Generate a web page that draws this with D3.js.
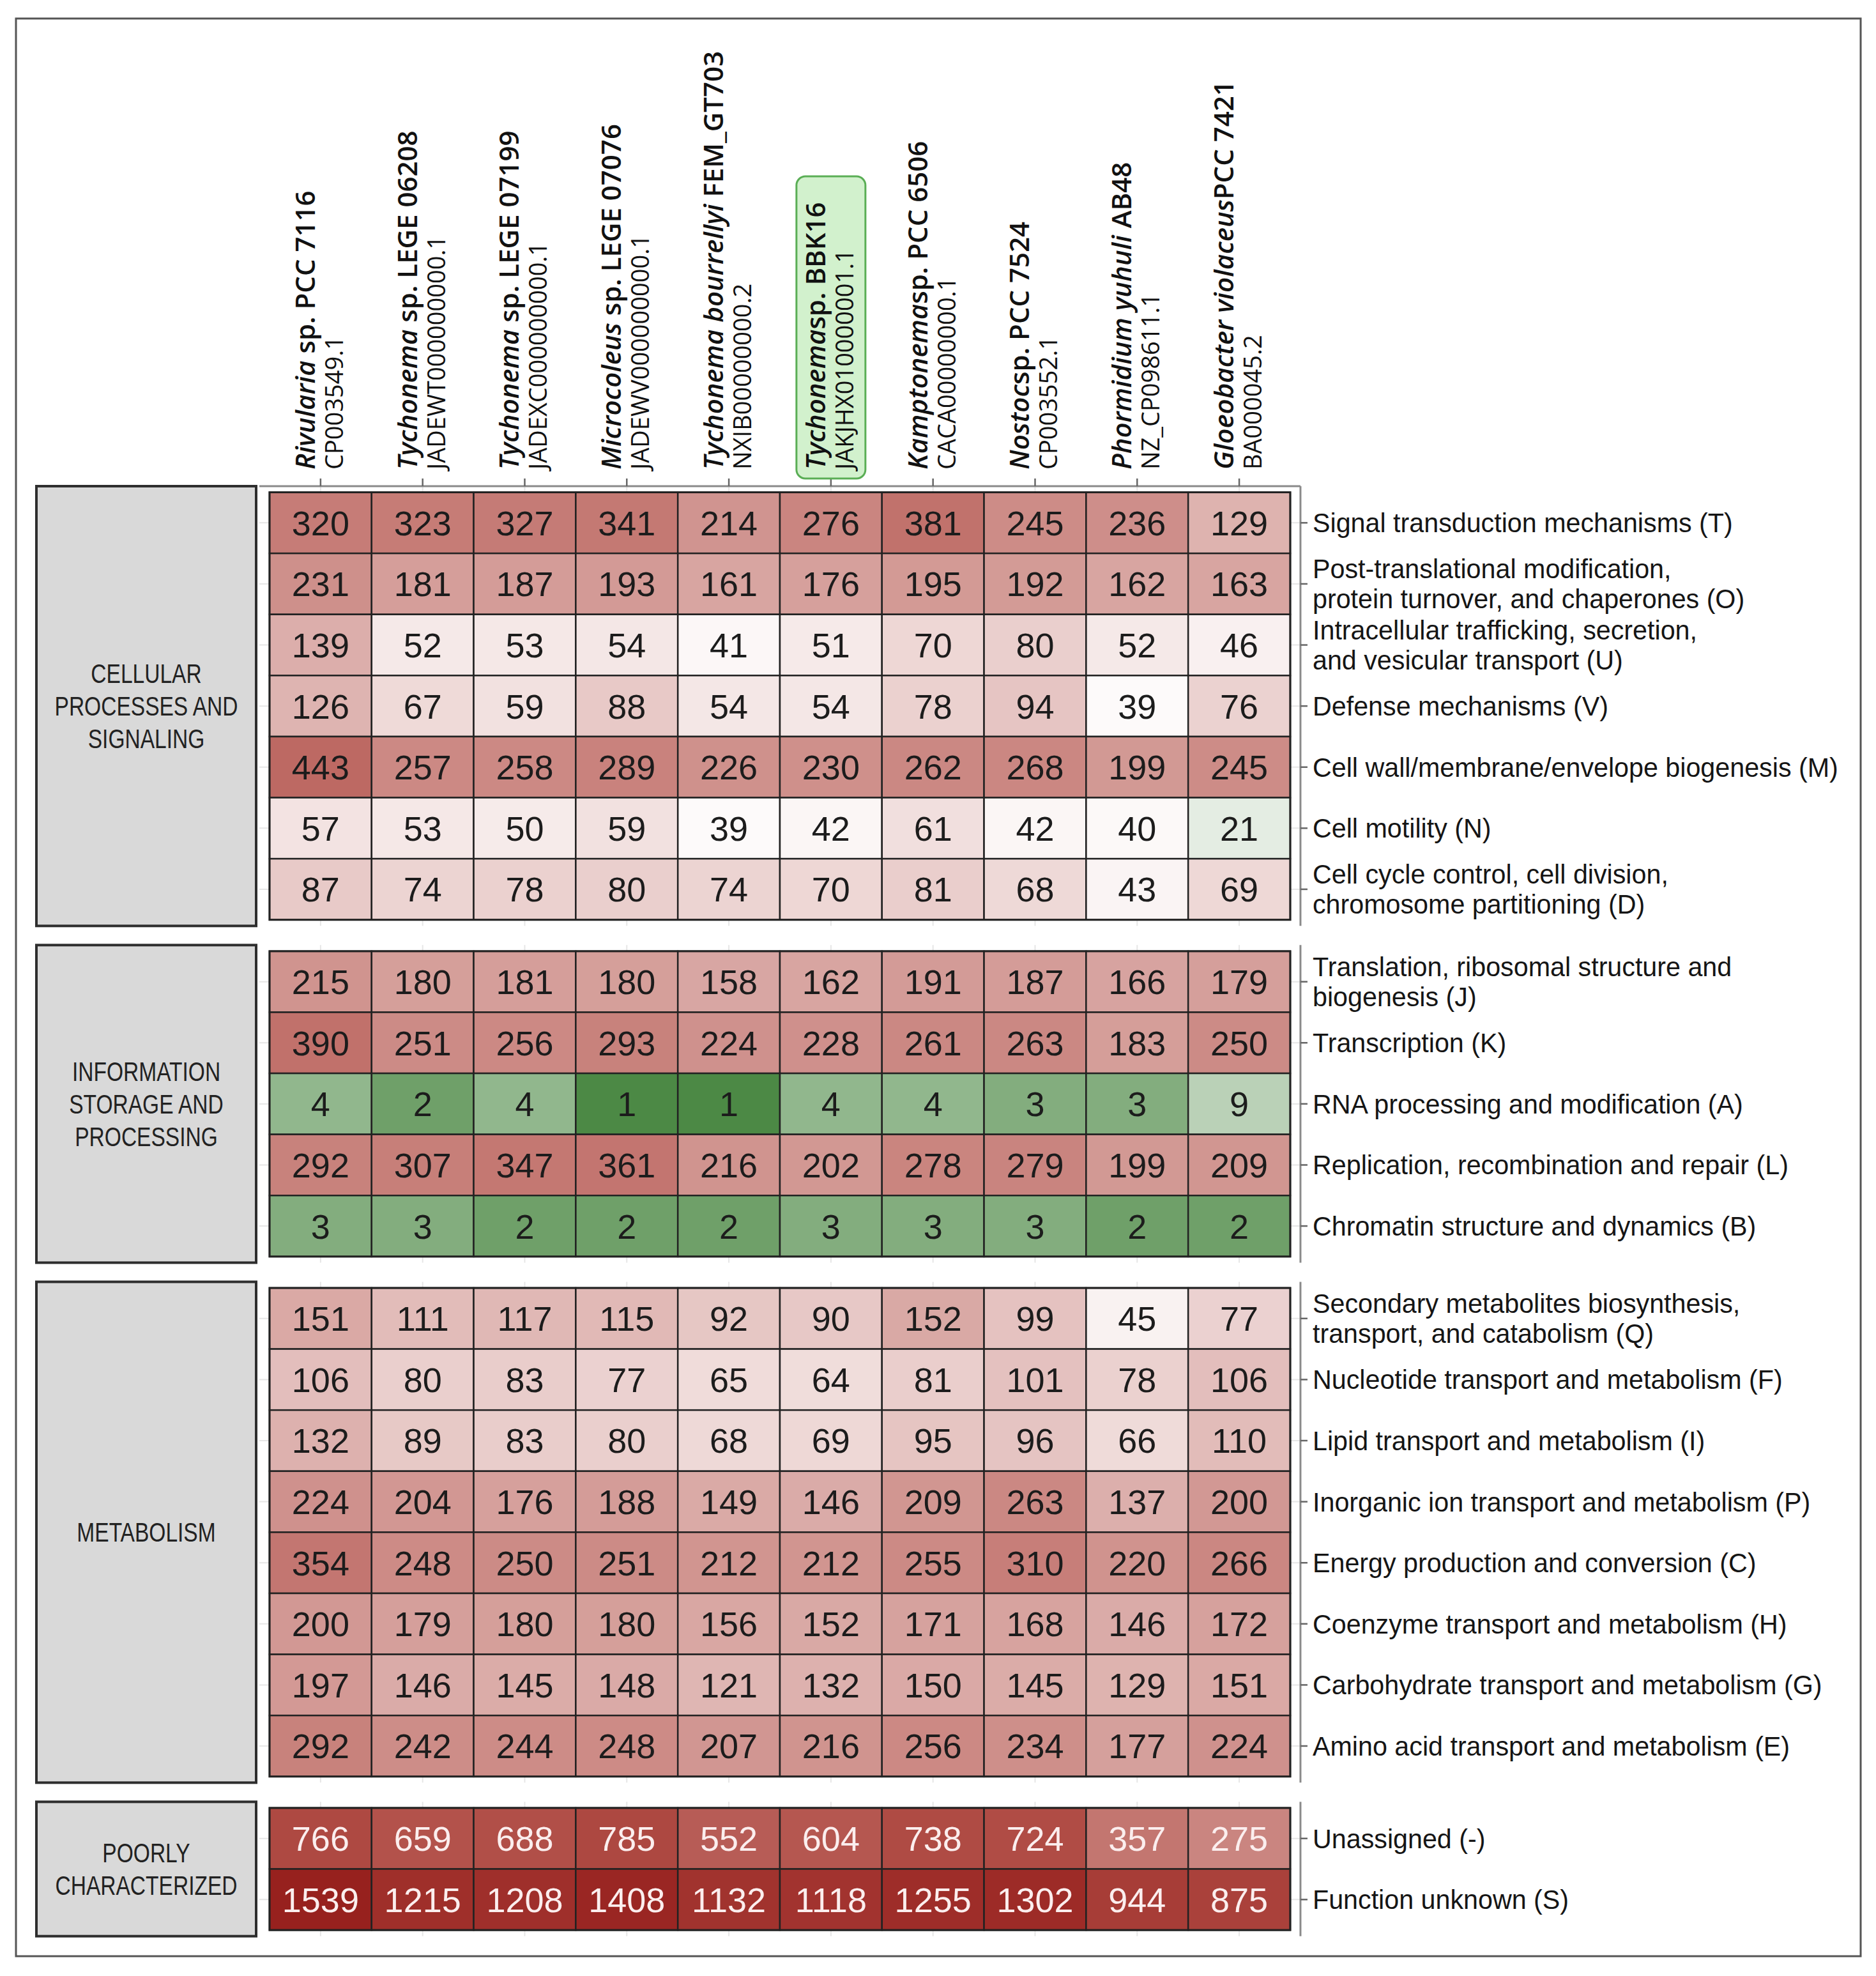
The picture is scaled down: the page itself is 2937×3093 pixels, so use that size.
<!DOCTYPE html>
<html><head><meta charset="utf-8">
<script src="https://cdn.jsdelivr.net/npm/d3@7"></script>
<style>body{margin:0;background:#fff}svg text{white-space:pre}</style>
</head><body>
<svg id="chart" width="2937" height="3093"></svg>
<script>
// ---------------- DATA ----------------
const strainItalic = ["Rivularia","Tychonema","Tychonema","Microcoleus","Tychonema bourrellyi","Tychonema","Kamptonema","Nostoc","Phormidium yuhuli","Gloeobacter violaceus"];
const strainRest   = [" sp. PCC 7116"," sp. LEGE 06208"," sp. LEGE 07199"," sp. LEGE 07076"," FEM_GT703","sp. BBK16","sp. PCC 6506","sp. PCC 7524"," AB48","PCC 7421"];
const accessions   = ["CP003549.1","JADEWT000000000.1","JADEXC000000000.1","JADEWV000000000.1","NXIB00000000.2","JAKJHX010000001.1","CACA00000000.1","CP003552.1","NZ_CP098611.1","BA000045.2"];
const highlightedStrain = "JAKJHX010000001.1";

const groupLabels = [
  ["CELLULAR","PROCESSES AND","SIGNALING"],
  ["INFORMATION","STORAGE AND","PROCESSING"],
  ["METABOLISM"],
  ["POORLY","CHARACTERIZED"]
];

const cellularCategories = [
  "Signal transduction mechanisms (T)",
  "Post-translational modification,\nprotein turnover, and chaperones (O)",
  "Intracellular trafficking, secretion,\nand vesicular transport (U)",
  "Defense mechanisms (V)",
  "Cell wall/membrane/envelope biogenesis (M)",
  "Cell motility (N)",
  "Cell cycle control, cell division,\nchromosome partitioning (D)"
];
const cellularValues = [
  [320,323,327,341,214,276,381,245,236,129],
  [231,181,187,193,161,176,195,192,162,163],
  [139,52,53,54,41,51,70,80,52,46],
  [126,67,59,88,54,54,78,94,39,76],
  [443,257,258,289,226,230,262,268,199,245],
  [57,53,50,59,39,42,61,42,40,21],
  [87,74,78,80,74,70,81,68,43,69]
];

const informationCategories = [
  "Translation, ribosomal structure and\nbiogenesis (J)",
  "Transcription (K)",
  "RNA processing and modification (A)",
  "Replication, recombination and repair (L)",
  "Chromatin structure and dynamics (B)"
];
const informationValues = [
  [215,180,181,180,158,162,191,187,166,179],
  [390,251,256,293,224,228,261,263,183,250],
  [4,2,4,1,1,4,4,3,3,9],
  [292,307,347,361,216,202,278,279,199,209],
  [3,3,2,2,2,3,3,3,2,2]
];

const metabolismCategories = [
  "Secondary metabolites biosynthesis,\ntransport, and catabolism (Q)",
  "Nucleotide transport and metabolism (F)",
  "Lipid transport and metabolism (I)",
  "Inorganic ion transport and metabolism (P)",
  "Energy production and conversion (C)",
  "Coenzyme transport and metabolism (H)",
  "Carbohydrate transport and metabolism (G)",
  "Amino acid transport and metabolism (E)"
];
const metabolismValues = [
  [151,111,117,115,92,90,152,99,45,77],
  [106,80,83,77,65,64,81,101,78,106],
  [132,89,83,80,68,69,95,96,66,110],
  [224,204,176,188,149,146,209,263,137,200],
  [354,248,250,251,212,212,255,310,220,266],
  [200,179,180,180,156,152,171,168,146,172],
  [197,146,145,148,121,132,150,145,129,151],
  [292,242,244,248,207,216,256,234,177,224]
];

const poorlyCategories = ["Unassigned (-)","Function unknown (S)"];
const poorlyValues = [
  [766,659,688,785,552,604,738,724,357,275],
  [1539,1215,1208,1408,1132,1118,1255,1302,944,875]
];

const groupCategories = [cellularCategories, informationCategories, metabolismCategories, poorlyCategories];
const groupValues = [cellularValues, informationValues, metabolismValues, poorlyValues];

// ---------------- LAYOUT ----------------
const svg = d3.select("#chart");
const rowUnit = 95.6, colUnit = 159.8, panelGap = 30;
const panelX0 = 406, panelX1 = panelX0 + colUnit * 10.2;
const firstPanelTop = 761;
const headFont = "'Open Sans','Noto Sans',sans-serif";
const condFont = "'Liberation Sans Narrow','Liberation Sans',Arial,sans-serif";
const numFont = "'Liberation Sans',Arial,sans-serif";

const x = d3.scaleBand().domain(accessions)
  .range([panelX0 + 0.1 * colUnit, panelX1 - 0.1 * colUnit]);

// diverging log colour scale: green (low) - white - red (high)
const greenRamp = d3.interpolateRgb("#4c8945", "#ffffff");
const redRamp = d3.scaleLinear().domain([0, 0.52, 0.8, 1])
  .range(["#ffffff", "#cc8a85", "#b04c45", "#97211e"]).interpolate(d3.interpolateRgb);
const color = d3.scaleDivergingLog()
  .domain([1, 36, 1539])
  .interpolator(t => t < 0.5 ? greenRamp(t * 2) : redRamp((t - 0.5) * 2));

// outer frame
svg.append("rect").attr("x", 25).attr("y", 29).attr("width", 2888).attr("height", 3033)
  .attr("fill", "#fff").attr("stroke", "#555").attr("stroke-width", 3);

function measure(txt, size, family, weight) {
  const t = svg.append("text").attr("font-size", size).attr("font-family", family)
    .attr("font-weight", weight || 400).text(txt);
  const w = t.node().getComputedTextLength();
  t.remove();
  return w;
}
const rightSize = 42, rightLead = 47;
const rightSx = 658 / measure("Signal transduction mechanisms (T)", rightSize, condFont);
const stripSize = 43, stripLead = 51;
const stripSx = 287 / measure("PROCESSES AND", stripSize, condFont);

// ---------------- PANELS ----------------
let panelTop = firstPanelTop;
groupCategories.forEach((cats, gi) => {
  const vals = groupValues[gi];
  const n = cats.length;
  const h = (n + 0.2) * rowUnit;
  const y = d3.scaleBand().domain(cats).range([panelTop + 0.1 * rowUnit, panelTop + h - 0.1 * rowUnit]);
  const g = svg.append("g");

  // faint grid (visible only in the panel margins)
  g.selectAll("line.gx").data(accessions).join("line")
    .attr("x1", d => x(d) + x.bandwidth() / 2).attr("x2", d => x(d) + x.bandwidth() / 2)
    .attr("y1", panelTop).attr("y2", panelTop + h).attr("stroke", "#e6e6e6").attr("stroke-width", 2);
  g.selectAll("line.gy").data(cats).join("line")
    .attr("x1", panelX0).attr("x2", panelX1)
    .attr("y1", d => y(d) + y.bandwidth() / 2).attr("y2", d => y(d) + y.bandwidth() / 2)
    .attr("stroke", "#e6e6e6").attr("stroke-width", 2);

  // strip box
  svg.append("rect").attr("x", 57).attr("y", panelTop).attr("width", 344).attr("height", h)
    .attr("fill", "#d9d9d9").attr("stroke", "#2e2e2e").attr("stroke-width", 4);
  const lines = groupLabels[gi];
  const cy = panelTop + h / 2;
  const st = svg.append("text")
    .attr("transform", `translate(229,${cy + 15 - (lines.length - 1) / 2 * stripLead}) scale(${stripSx},1)`)
    .attr("text-anchor", "middle").attr("font-family", condFont).attr("font-size", stripSize)
    .attr("fill", "#222");
  lines.forEach((ln, k) => st.append("tspan").attr("x", 0).attr("dy", k === 0 ? 0 : stripLead).text(ln));

  // cells
  const cells = [];
  cats.forEach((c, r) => accessions.forEach((a, ci) => cells.push({cat: c, acc: a, v: vals[r][ci]})));
  g.selectAll("rect.cell").data(cells).join("rect")
    .attr("x", d => x(d.acc)).attr("y", d => y(d.cat))
    .attr("width", x.bandwidth()).attr("height", y.bandwidth())
    .attr("fill", d => color(d.v)).attr("stroke", "#222").attr("stroke-width", 2.5);
  g.selectAll("text.val").data(cells).join("text")
    .attr("x", d => x(d.acc) + x.bandwidth() / 2).attr("y", d => y(d.cat) + y.bandwidth() / 2)
    .attr("dy", "0.36em").attr("text-anchor", "middle")
    .attr("font-family", numFont).attr("font-size", 54)
    .attr("fill", gi === 3 ? "#fbeeee" : "#1c1c1c").text(d => d.v);
  g.append("rect").attr("x", x.range()[0]).attr("y", y.range()[0])
    .attr("width", x.range()[1] - x.range()[0]).attr("height", y.range()[1] - y.range()[0])
    .attr("fill", "none").attr("stroke", "#222").attr("stroke-width", 3);

  // right axis with category labels
  g.append("line").attr("x1", panelX1).attr("x2", panelX1).attr("y1", panelTop).attr("y2", panelTop + h)
    .attr("stroke", "#8a8a8a").attr("stroke-width", 3);
  cats.forEach(c => {
    const yc = y(c) + y.bandwidth() / 2;
    g.append("line").attr("x1", panelX1).attr("x2", panelX1 + 11).attr("y1", yc).attr("y2", yc)
      .attr("stroke", "#666").attr("stroke-width", 2.5);
    const ls = c.split("\n");
    const t = g.append("text")
      .attr("transform", `translate(2055,${yc + 15 - (ls.length - 1) / 2 * rightLead}) scale(${rightSx},1)`)
      .attr("font-family", condFont).attr("font-size", rightSize).attr("fill", "#151515");
    ls.forEach((ln, k) => t.append("tspan").attr("x", 0).attr("dy", k === 0 ? 0 : rightLead).text(ln));
  });

  // top axis on first panel only
  if (gi === 0) {
    g.append("line").attr("x1", panelX0).attr("x2", panelX1).attr("y1", panelTop).attr("y2", panelTop)
      .attr("stroke", "#8a8a8a").attr("stroke-width", 3);
    accessions.forEach(a => {
      const xc = x(a) + x.bandwidth() / 2;
      g.append("line").attr("x1", xc).attr("x2", xc).attr("y1", panelTop - 12).attr("y2", panelTop)
        .attr("stroke", "#666").attr("stroke-width", 2.5);
    });
  }
  panelTop += h + panelGap;
});

// ---------------- COLUMN HEADERS ----------------
const hx = a => x(a) + x.bandwidth() / 2;
svg.append("rect").attr("x", hx(highlightedStrain) - 54).attr("y", 276).attr("width", 108).attr("height", 473)
  .attr("rx", 14).attr("fill", "#d2f1cd").attr("stroke", "#5aae55").attr("stroke-width", 3);

accessions.forEach((a, i) => {
  const g = svg.append("g").attr("transform", `translate(${hx(a)},735) rotate(-90)`);
  const t = g.append("text").attr("x", 0).attr("y", -9)
    .attr("font-family", headFont).attr("fill", "#111");
  t.append("tspan").attr("font-size", 42).attr("font-style", "italic").attr("font-weight", 600).text(strainItalic[i]);
  t.append("tspan").attr("font-size", 42).attr("font-weight", 600).text(strainRest[i]);
  t.append("tspan").attr("x", 0).attr("dy", 44).attr("font-size", 38).attr("font-weight", 400).text(a);
});
</script>
</body></html>
